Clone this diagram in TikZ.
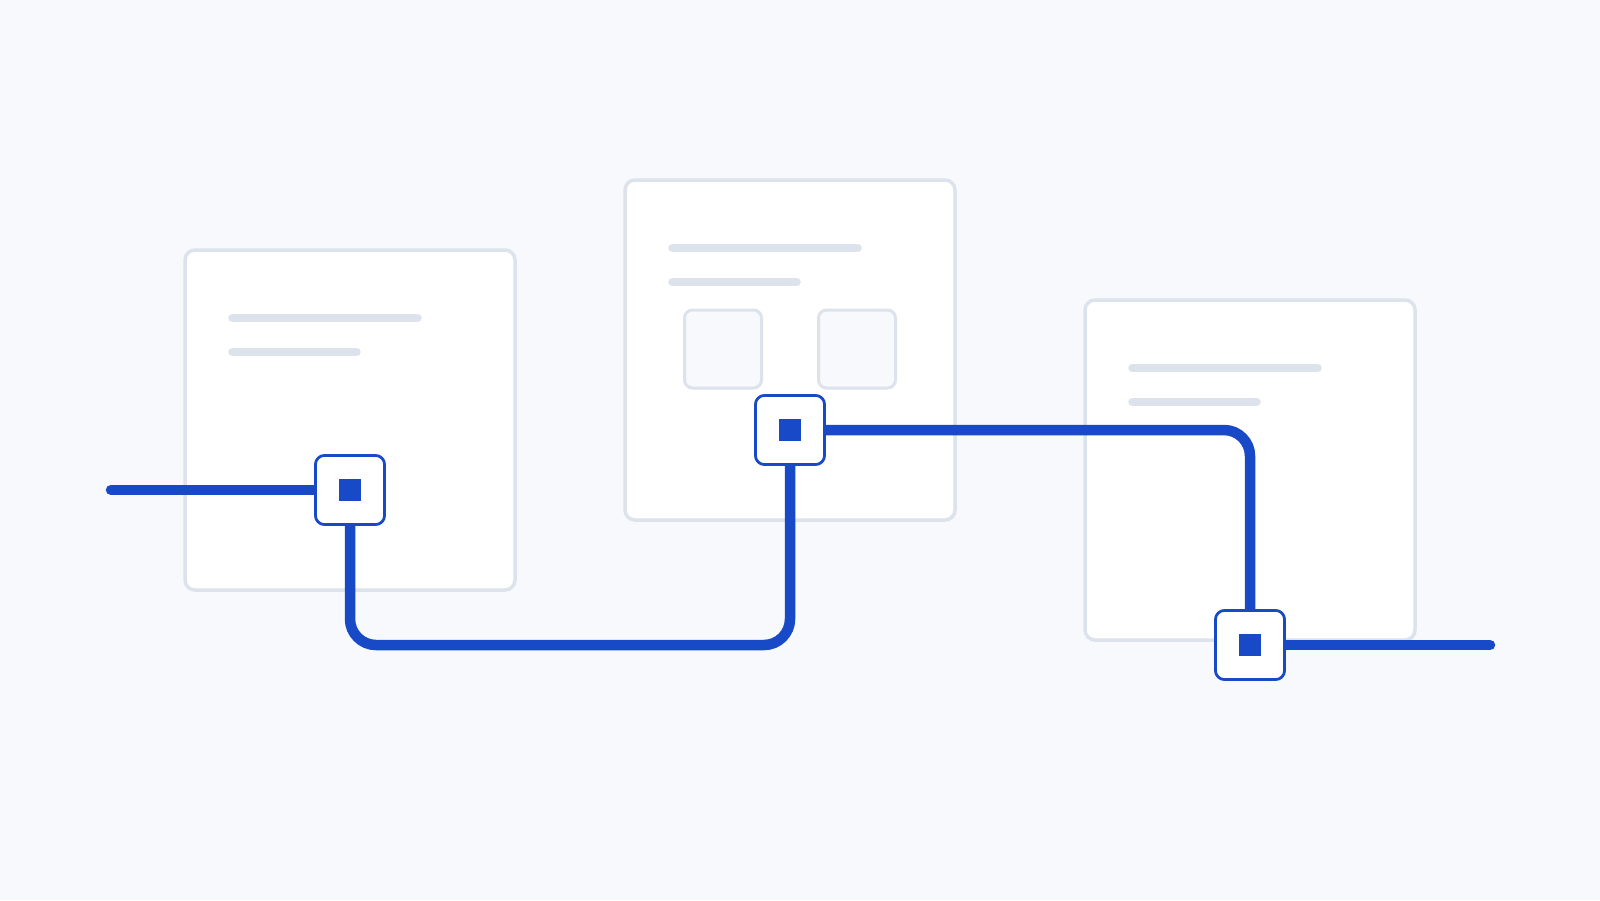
\documentclass[tikz,border=0pt]{standalone}
\usetikzlibrary{calc}
\definecolor{bg}{HTML}{F7F9FC}
\definecolor{cardline}{HTML}{DDE3EC}
\definecolor{wireblue}{HTML}{1849C6}
\tikzset{
  card/.style={draw=cardline, fill=white, line width=3.5pt, rounded corners=10pt,
    minimum width=330pt, minimum height=340pt, inner sep=0pt},
  slot/.style={draw=cardline, fill=bg, line width=3pt, rounded corners=8pt,
    minimum width=77pt, minimum height=78pt, inner sep=0pt},
  textbar/.style={draw=cardline, line width=8.5pt, line cap=round},
  wire/.style={draw=wireblue, line width=10.5pt, rounded corners=26pt},
  wireend/.style={draw=wireblue, line width=10.5pt, line cap=round},
  port/.style={draw=wireblue, fill=white, line width=2.6pt, rounded corners=9pt,
    minimum width=69pt, minimum height=69pt, inner sep=0pt},
  portdot/.style={fill=wireblue, minimum size=22pt, inner sep=0pt}
}
\begin{document}
\begin{tikzpicture}[x=1pt,y=-1pt]
\useasboundingbox (0,0) rectangle (1600,900);
\fill[bg] (0,0) rectangle (1600,900);
% cards
\node[card] (c1) at (350,420) {};
\node[card] (c2) at (790,350) {};
\node[card] (c3) at (1250,470) {};
% text bars
\draw[textbar] (232.5,318) -- (417.5,318);
\draw[textbar] (232.5,352) -- (356.5,352);
\draw[textbar] (672.5,248) -- (857.5,248);
\draw[textbar] (672.5,282) -- (796.5,282);
\draw[textbar] (1132.5,368) -- (1317.5,368);
\draw[textbar] (1132.5,402) -- (1256.5,402);
% slots in card 2
\node[slot] (s1) at (723,349) {};
\node[slot] (s2) at (857,349) {};
% ports
\node[port] (n1) at (350,490) {};
\node[port] (n2) at (790,430) {};
\node[port] (n3) at (1250,645) {};
\coordinate (start) at (111,490);
\coordinate (end) at (1490,645);
% wires
\draw[wireend] (start) -- (n1.west);
\draw[wire] (n1.south) -- (n1 |- n3) -- (n2 |- n3) -- (n2.south);
\draw[wire] (n2.east) -- (n3 |- n2) -- (n3.north);
\draw[wireend] (n3.east) -- (end);
% redraw ports on top
\node[port] at (n1) {};
\node[port] at (n2) {};
\node[port] at (n3) {};
\node[portdot] (d1) at (n1) {};
\node[portdot] (d2) at (n2) {};
\node[portdot] (d3) at (n3) {};
\end{tikzpicture}
\end{document}
